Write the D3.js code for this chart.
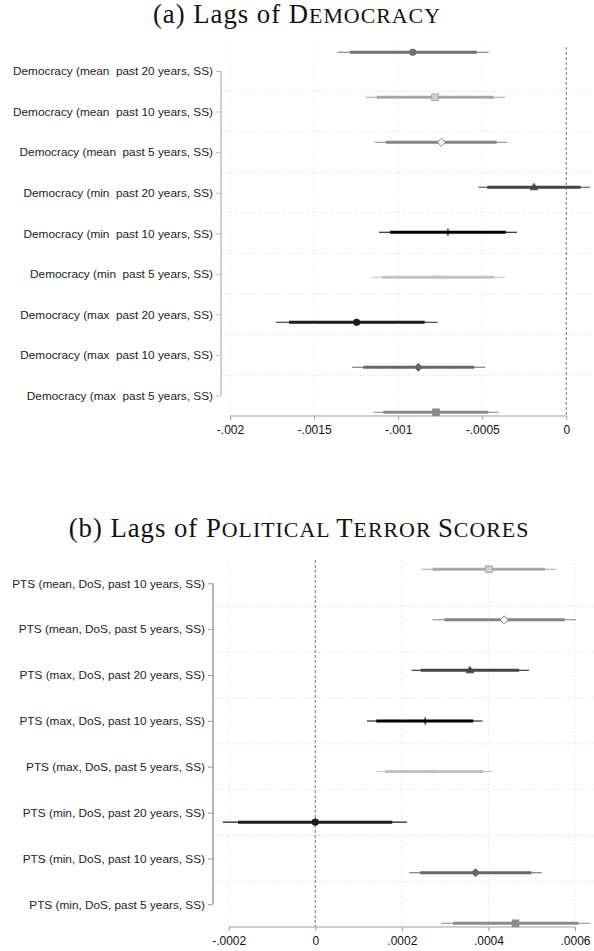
<!DOCTYPE html>
<html><head><meta charset="utf-8">
<script src="https://cdn.jsdelivr.net/npm/d3@7"></script>
<style>
html,body{margin:0;padding:0;background:#fff;}
svg{display:block;}
.lbl{font-family:"Liberation Sans",Arial,sans-serif;font-size:11.8px;fill:#222;white-space:pre;}
.tick{font-family:"Liberation Sans",Arial,sans-serif;font-size:12px;fill:#111;}
.ttl{font-family:"Liberation Serif","DejaVu Serif",serif;font-size:26.7px;fill:#111;letter-spacing:1px;white-space:pre;}
</style></head>
<body>
<script>
// ---------- Data ----------
const catsA = ["Democracy (mean  past 20 years, SS)","Democracy (mean  past 10 years, SS)","Democracy (mean  past 5 years, SS)",
  "Democracy (min  past 20 years, SS)","Democracy (min  past 10 years, SS)","Democracy (min  past 5 years, SS)",
  "Democracy (max  past 20 years, SS)","Democracy (max  past 10 years, SS)","Democracy (max  past 5 years, SS)"];
const estA  = [-0.000913,-0.000781,-0.000743,-0.000192,-0.000704,-0.000765,-0.001247,-0.000880,-0.000775];
const lo95A = [-0.001360,-0.001193,-0.001140,-0.000523,-0.001114,-0.001160,-0.001726,-0.001273,-0.001145];
const hi95A = [-0.000461,-0.000365,-0.000349, 0.000141,-0.000293,-0.000363,-0.000765,-0.000482,-0.000402];
const lo90A = [-0.001286,-0.001128,-0.001074,-0.000470,-0.001048,-0.001094,-0.001649,-0.001207,-0.001088];
const hi90A = [-0.000533,-0.000430,-0.000414, 0.0000856,-0.000360,-0.000426,-0.000842,-0.000547,-0.000464];
const ticksA = [-0.002,-0.0015,-0.001,-0.0005,0];
const tickLabelsA = ["-.002","-.0015","-.001","-.0005","0"];

const catsB = ["PTS (mean, DoS, past 10 years, SS)","PTS (mean, DoS, past 5 years, SS)",
  "PTS (max, DoS, past 20 years, SS)","PTS (max, DoS, past 10 years, SS)","PTS (max, DoS, past 5 years, SS)",
  "PTS (min, DoS, past 20 years, SS)","PTS (min, DoS, past 10 years, SS)","PTS (min, DoS, past 5 years, SS)"];
const estB  = [0.0004012,0.0004365,0.0003573,0.000254,0.0002748,0.0,0.0003702,0.0004626];
const lo95B = [0.0002455,0.0002709,0.0002224,0.0001194,0.0001409,-0.0002132,0.0002171,0.000291];
const hi95B = [0.0005566,0.0006028,0.0004935,0.0003864,0.0004088,0.0002118,0.0005236,0.000635];
const lo90B = [0.0002709,0.0002986,0.0002432,0.0001409,0.0001617,-0.0001785,0.0002425,0.000318];
const hi90B = [0.0005312,0.0005767,0.0004711,0.0003649,0.000388,0.0001778,0.0004989,0.000608];
const ticksB = [-0.0002,0,0.0002,0.0004,0.0006];
const tickLabelsB = ["-.0002","0",".0002",".0004",".0006"];

const titleA = {pre:"(a) Lags of ", sc:"Democracy"};
const titleB = {pre:"(b) Lags of ", sc:"Political Terror Scores"};

// marker styles (Stata-like mono sequence)
const styles = [
  {shape:"circle",  color:"#6f6f6f", fill:"#6f6f6f"},
  {shape:"square",  color:"#a8a8a8", fill:"#d0d0d0"},
  {shape:"diamond", color:"#858585", fill:"#ffffff"},
  {shape:"triangle",color:"#454545", fill:"#454545"},
  {shape:"plus",    color:"#000000", fill:"none"},
  {shape:"x",       color:"#c2c2c2", fill:"none"},
  {shape:"circle",  color:"#1c1c1c", fill:"#1c1c1c"},
  {shape:"diamond", color:"#666666", fill:"#666666"},
  {shape:"square",  color:"#8a8a8a", fill:"#8a8a8a"}
];

const W = 594, H = 951;
const svg = d3.select("body").append("svg").attr("width",W).attr("height",H);

function title(t, cx, baseline){
  const tx = svg.append("text").attr("class","ttl").attr("x",cx).attr("y",baseline).attr("text-anchor","middle");
  tx.append("tspan").text(t.pre);
  // manual small caps: uppercase letters full size, lowercase as reduced capitals
  const runs = [];
  for(const ch of t.sc){
    const small = ch === " " ? (runs.length ? runs[runs.length-1].small : false) : ch !== ch.toUpperCase();
    if(runs.length && runs[runs.length-1].small===small) runs[runs.length-1].s += ch;
    else runs.push({small, s:ch});
  }
  runs.forEach(r=>{
    tx.append("tspan").attr("font-size", r.small? "0.82em" : null).text(r.s.toUpperCase());
  });
}

function panel(o){
  const x = d3.scaleLinear().domain(o.domain).range(o.xr);
  const ym = d3.scalePoint().domain(o.cats).range(o.ymr);
  const yl = d3.scalePoint().domain(o.cats).range(o.ylr);
  const g = svg.append("g");
  // horizontal grid between labels
  const mids = o.cats.slice(1).map((c,i)=> (yl(o.cats[i])+yl(c))/2);
  g.selectAll(".hg").data(mids).enter().append("line")
    .attr("x1",o.axisX+1).attr("x2",W).attr("y1",d=>d).attr("y2",d=>d)
    .attr("stroke","#c8c8c8").attr("stroke-width",0.8).attr("stroke-dasharray","1,2");
  // vertical grid
  g.selectAll(".vg").data(o.ticks.filter(t=>t!==0)).enter().append("line")
    .attr("x1",d=>x(d)).attr("x2",d=>x(d)).attr("y1",o.top).attr("y2",o.bottom)
    .attr("stroke","#cfcfcf").attr("stroke-width",0.8).attr("stroke-dasharray","1,2.5");
  // zero line
  g.append("line").attr("x1",x(0)).attr("x2",x(0)).attr("y1",o.top).attr("y2",o.bottom)
    .attr("stroke","#666").attr("stroke-width",0.9).attr("stroke-dasharray","3,2");
  // x axis
  const ax = g.append("g").attr("transform",`translate(0,${o.bottom})`)
    .call(d3.axisBottom(x).tickValues(o.ticks).tickFormat((d,i)=>o.tickLabels[i]).tickSize(4).tickPadding(5));
  ax.select(".domain").attr("stroke","#a0a0a0").attr("stroke-width",1.2).attr("d",`M${x(o.ticks[0])},0H${x(o.ticks[o.ticks.length-1])}`);
  ax.selectAll(".tick line").attr("stroke","#a0a0a0").attr("stroke-width",1);
  ax.selectAll(".tick text").attr("class","tick").attr("font-family",null).attr("font-size",null).attr("fill",null);
  // y axis (labels)
  const ay = g.append("g").attr("transform",`translate(${o.axisX},0)`)
    .call(d3.axisLeft(yl).tickSize(5).tickPadding(3));
  ay.select(".domain").attr("stroke",o.axisColor).attr("stroke-width",1.4)
    .attr("d",`M0,${o.ylr[0]}V${o.ylr[1]}`);
  ay.selectAll(".tick line").attr("stroke",o.axisColor).attr("stroke-width",1);
  ay.selectAll(".tick text").attr("class","lbl").attr("font-family",null).attr("font-size",null).attr("fill",null);
  // estimates
  o.cats.forEach((c,i)=>{
    const s = styles[i+o.styleOffset];
    const yy = ym(c);
    g.append("line").attr("x1",x(o.lo95[i])).attr("x2",x(o.hi95[i])).attr("y1",yy).attr("y2",yy)
      .attr("stroke",s.color).attr("stroke-width",1.1);
    g.append("line").attr("x1",x(o.lo90[i])).attr("x2",x(o.hi90[i])).attr("y1",yy).attr("y2",yy)
      .attr("stroke",s.color).attr("stroke-width",3);
    const cx = x(o.est[i]);
    const m = g.append("g").attr("transform",`translate(${cx},${yy})`);
    if(s.shape==="circle") m.append("circle").attr("r",3.3).attr("fill",s.fill).attr("stroke",s.color).attr("stroke-width",0.8);
    if(s.shape==="square") m.append("rect").attr("x",-3.3).attr("y",-3.3).attr("width",6.6).attr("height",6.6).attr("fill",s.fill).attr("stroke",s.color).attr("stroke-width",1);
    if(s.shape==="diamond") m.append("path").attr("d","M0,-4L4,0L0,4L-4,0Z").attr("fill",s.fill).attr("stroke",s.color).attr("stroke-width",1);
    if(s.shape==="triangle") m.append("path").attr("d","M0,-4L3.8,2.5L-3.8,2.5Z").attr("fill",s.fill).attr("stroke",s.color).attr("stroke-width",0.8);
    if(s.shape==="plus") m.append("path").attr("d","M0,-3.5V3.5").attr("stroke",s.color).attr("stroke-width",1.2);
    if(s.shape==="x") m.append("path").attr("d","M-2,-2L2,2M-2,2L2,-2").attr("stroke",s.color).attr("stroke-width",1);
  });
}

title(titleA, 297, 22.5);
panel({cats:catsA, est:estA, lo95:lo95A, hi95:hi95A, lo90:lo90A, hi90:hi90A,
  domain:[-0.002,0], xr:[230,566.3], ticks:ticksA, tickLabels:tickLabelsA,
  ymr:[52.3,412.3], ylr:[71,395.5], top:47, bottom:416, axisX:221, axisColor:"#bdbdbd", styleOffset:0});

title(titleB, 299, 537);
panel({cats:catsB, est:estB, lo95:lo95B, hi95:hi95B, lo90:lo90B, hi90:hi90B,
  domain:[-0.0002,0.0006], xr:[228.7,575], ticks:ticksB, tickLabels:tickLabelsB,
  ymr:[569.2,923.3], ylr:[583.3,904.3], top:560, bottom:927, axisX:213, axisColor:"#999", styleOffset:1});
</script>
</body></html>
